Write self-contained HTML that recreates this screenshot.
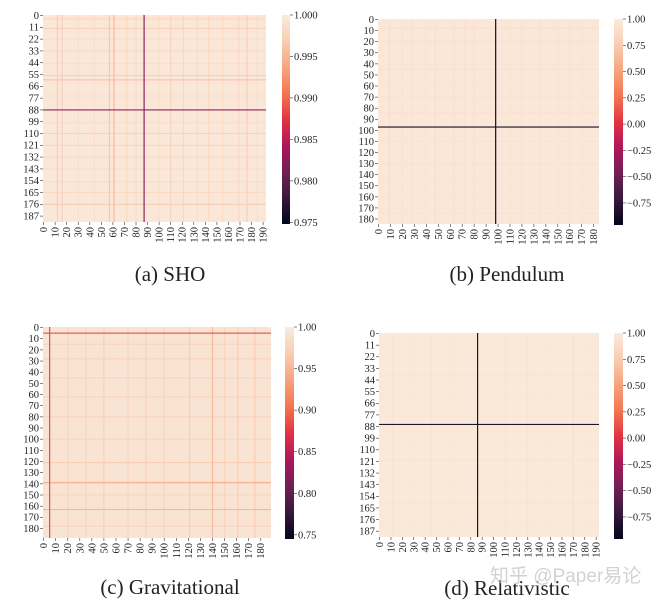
<!DOCTYPE html>
<html><head><meta charset="utf-8">
<style>
html,body{margin:0;padding:0;background:#fff;}
svg{display:block;}
text{font-family:"Liberation Serif",serif;fill:#222;}
</style></head>
<body>
<svg id="fig" width="665" height="607" viewBox="0 0 665 607" xmlns="http://www.w3.org/2000/svg"></svg>
<script>
// ---- data arrays ----
// Panel (a) SHO
const aSize = 193;
const aBase = 0.9996;
const aRowIdx = [3, 12, 22, 33, 45, 56, 60, 75, 88, 100, 110, 121, 132, 143, 155, 165, 176];
const aRowVal = [0.9978, 0.9968, 0.9985, 0.9982, 0.9985, 0.9968, 0.996, 0.9985, 0.9825, 0.9985, 0.9975, 0.9978, 0.9982, 0.9985, 0.9985, 0.9982, 0.9968];
const aColIdx = [12, 16, 30, 44, 57, 61, 72, 80, 87, 100, 110, 121, 133, 143, 155, 169, 176, 185];
const aColVal = [0.997, 0.9972, 0.9985, 0.9985, 0.9965, 0.9955, 0.998, 0.9985, 0.9825, 0.9985, 0.9975, 0.998, 0.9985, 0.998, 0.9985, 0.9978, 0.997, 0.9985];
const aYTicks = [0, 11, 22, 33, 44, 55, 66, 77, 88, 99, 110, 121, 132, 143, 154, 165, 176, 187];
const aXTicks = [0, 10, 20, 30, 40, 50, 60, 70, 80, 90, 100, 110, 120, 130, 140, 150, 160, 170, 180, 190];
const aCbTicks = [1.000, 0.995, 0.990, 0.985, 0.980, 0.975];
const aCbLabels = ["1.000", "0.995", "0.990", "0.985", "0.980", "0.975"];
const aRange = [0.9748, 1.0];

// Panel (b) Pendulum
const bSize = 185;
const bBase = 0.97;
const bRowIdx = [8, 20, 33, 45, 58, 70, 84, 97, 110, 130, 145, 160, 175];
const bRowVal = [0.91, 0.92, 0.93, 0.92, 0.93, 0.93, 0.93, -0.88, 0.93, 0.93, 0.93, 0.93, 0.93];
const bColIdx = [9, 20, 28, 40, 47, 63, 72, 80, 98, 110, 120, 135, 150, 160, 170];
const bColVal = [0.91, 0.93, 0.92, 0.93, 0.92, 0.92, 0.93, 0.92, -0.88, 0.93, 0.93, 0.93, 0.93, 0.93, 0.93];
const bYTicks = [0, 10, 20, 30, 40, 50, 60, 70, 80, 90, 100, 110, 120, 130, 140, 150, 160, 170, 180];
const bXTicks = [0, 10, 20, 30, 40, 50, 60, 70, 80, 90, 100, 110, 120, 130, 140, 150, 160, 170, 180];
const bCbTicks = [1.00, 0.75, 0.50, 0.25, 0.00, -0.25, -0.50, -0.75];
const bCbLabels = ["1.00", "0.75", "0.50", "0.25", "0.00", "\u22120.25", "\u22120.50", "\u22120.75"];
const bRange = [-0.96, 1.0];

// Panel (c) Gravitational
const cSize = 189;
const cBase = 0.992;
const cRowIdx = [5, 15, 28, 45, 62, 80, 100, 121, 139, 150, 163, 178];
const cRowVal = [0.885, 0.975, 0.972, 0.978, 0.978, 0.975, 0.978, 0.968, 0.94, 0.978, 0.952, 0.978];
const cColIdx = [5, 20, 35, 50, 70, 85, 100, 121, 140, 150, 161, 175];
const cColVal = [0.885, 0.978, 0.978, 0.972, 0.978, 0.975, 0.978, 0.97, 0.955, 0.978, 0.968, 0.97];
const cYTicks = [0, 10, 20, 30, 40, 50, 60, 70, 80, 90, 100, 110, 120, 130, 140, 150, 160, 170, 180];
const cXTicks = [0, 10, 20, 30, 40, 50, 60, 70, 80, 90, 100, 110, 120, 130, 140, 150, 160, 170, 180];
const cCbTicks = [1.00, 0.95, 0.90, 0.85, 0.80, 0.75];
const cCbLabels = ["1.00", "0.95", "0.90", "0.85", "0.80", "0.75"];
const cRange = [0.745, 1.0];

// Panel (d) Relativistic
const dSize = 193;
const dBase = 0.975;
const dRowIdx = [10, 25, 40, 60, 86, 105, 120, 140, 160, 180];
const dRowVal = [0.93, 0.94, 0.93, 0.94, -0.88, 0.94, 0.93, 0.94, 0.93, 0.94];
const dColIdx = [12, 30, 45, 65, 86, 110, 130, 150, 170, 185];
const dColVal = [0.93, 0.94, 0.93, 0.94, -0.88, 0.94, 0.93, 0.94, 0.93, 0.94];
const dYTicks = [0, 11, 22, 33, 44, 55, 66, 77, 88, 99, 110, 121, 132, 143, 154, 165, 176, 187];
const dXTicks = [0, 10, 20, 30, 40, 50, 60, 70, 80, 90, 100, 110, 120, 130, 140, 150, 160, 170, 180, 190];
const dCbTicks = [1.00, 0.75, 0.50, 0.25, 0.00, -0.25, -0.50, -0.75];
const dCbLabels = ["1.00", "0.75", "0.50", "0.25", "0.00", "\u22120.25", "\u22120.50", "\u22120.75"];
const dRange = [-0.96, 1.0];

// ---- rendering ----
const NS = "http://www.w3.org/2000/svg";
const svg = document.getElementById('fig');
const stops = [[0,[3,5,26]],[0.125,[54,25,62]],[0.25,[112,31,87]],[0.375,[174,23,89]],[0.5,[225,51,66]],[0.625,[243,118,81]],[0.75,[246,164,126]],[0.875,[248,205,179]],[1,[250,235,221]]];
function cmap(t){
  t=Math.max(0,Math.min(1,t));
  for(let k=1;k<stops.length;k++){
    if(t<=stops[k][0]){
      const a=stops[k-1],b=stops[k],f=(t-a[0])/(b[0]-a[0]);
      const c=a[1].map((v,i)=>Math.round(v+(b[1][i]-v)*f));
      return 'rgb('+c.join(',')+')';
    }
  }
  return 'rgb(250,235,221)';
}
function el(tag, attrs, parent){
  const e=document.createElementNS(NS,tag);
  for(const k in attrs) e.setAttribute(k,attrs[k]);
  (parent||svg).appendChild(e);
  return e;
}

function panel(key, L, size, base, rowIdx, rowVal, colIdx, colVal, yTicks, xTicks, cbTicks, cbLabels, range, caption){
  const g=el('g',{});
  
  
  const norm=v=>(v-range[0])/(range[1]-range[0]);
  const W=L.x1-L.x0, H=L.y1-L.y0, cw=W/size, ch=H/size;
  const xs=i=>L.x0+i*cw, ys=i=>L.y0+i*ch;
  const bg=el('rect',{x:L.x0,y:L.y0,width:W,height:H,fill:cmap(norm(base))},g);
  
  
  const stripes=[];
  rowIdx.forEach((r,k)=>stripes.push({row:true,i:r,v:rowVal[k]}));
  colIdx.forEach((c,k)=>stripes.push({row:false,i:c,v:colVal[k]}));
  stripes.sort((p,q)=>q.v-p.v);
  stripes.forEach(s=>{
    let r;
    if(s.row){
      r=el('rect',{x:L.x0,y:ys(s.i),width:W,height:Math.max(ch,1),fill:cmap(norm(s.v))},g);
      
    } else {
      r=el('rect',{x:xs(s.i),y:L.y0,width:Math.max(cw,1),height:H,fill:cmap(norm(s.v))},g);
      
    }
    
  });
  yTicks.forEach(t=>{
    const y=ys(t+0.5);
    el('line',{x1:L.x0-3,x2:L.x0,y1:y,y2:y,stroke:'#333','stroke-width':0.6},g);
    const tx=el('text',{x:L.x0-4,y:y+3.4,'font-size':10.5,'text-anchor':'end'},g);
    tx.textContent=t;
    
    
  });
  xTicks.forEach(t=>{
    const x=xs(t+0.5);
    el('line',{x1:x,x2:x,y1:L.y1,y2:L.y1+3,stroke:'#333','stroke-width':0.6},g);
    const tx=el('text',{x:0,y:0,'font-size':10.5,'text-anchor':'end',transform:'translate('+(x+3.5)+','+(L.y1+5)+') rotate(-90)'},g);
    tx.textContent=t;
    
    
  });
  const gid='grad'+key;
  const defs=el('defs',{},g);
  const lg=el('linearGradient',{id:gid,x1:0,y1:1,x2:0,y2:0},defs);
  for(let k=0;k<=16;k++){ el('stop',{offset:k/16,'stop-color':cmap(k/16)},lg); }
  const cb=el('rect',{x:L.cbx,y:L.y0,width:L.cbw,height:L.cbh,fill:'url(#'+gid+')'},g);
  
  
  cbTicks.forEach((v,k)=>{
    const y=L.y0+L.cbh*(1-norm(v));
    el('line',{x1:L.cbx+L.cbw,x2:L.cbx+L.cbw+3,y1:y,y2:y,stroke:'#333','stroke-width':0.6},g);
    const tx=el('text',{x:L.cbx+L.cbw+4,y:y+3.5,'font-size':10.5},g);
    tx.textContent=cbLabels[k];
    
    
  });
  const cap=el('text',{x:L.capx,y:L.capy,'font-size':21,'text-anchor':'middle'},g);
  cap.textContent=caption;
  
  
}

panel('a',{x0:43,x1:266,y0:15,y1:222,cbx:282,cbw:8,cbh:209,capx:170,capy:281},aSize,aBase,aRowIdx,aRowVal,aColIdx,aColVal,aYTicks,aXTicks,aCbTicks,aCbLabels,aRange,'(a) SHO');
panel('b',{x0:378,x1:599,y0:19,y1:224,cbx:614,cbw:9,cbh:206,capx:507,capy:281},bSize,bBase,bRowIdx,bRowVal,bColIdx,bColVal,bYTicks,bXTicks,bCbTicks,bCbLabels,bRange,'(b) Pendulum');
panel('c',{x0:43,x1:271,y0:327,y1:538,cbx:285,cbw:9,cbh:212,capx:170,capy:594},cSize,cBase,cRowIdx,cRowVal,cColIdx,cColVal,cYTicks,cXTicks,cCbTicks,cCbLabels,cRange,'(c) Gravitational');
panel('d',{x0:379,x1:599,y0:333,y1:537,cbx:614,cbw:9,cbh:206,capx:507,capy:595},dSize,dBase,dRowIdx,dRowVal,dColIdx,dColVal,dYTicks,dXTicks,dCbTicks,dCbLabels,dRange,'(d) Relativistic');

const wm=el('text',{x:490,y:582,'font-size':19});
wm.setAttribute('style','font-family:"Liberation Sans","Noto Sans CJK SC",sans-serif;fill:#d2d2d2;');
wm.textContent='知乎 @Paper易论';


</script>
</body></html>
